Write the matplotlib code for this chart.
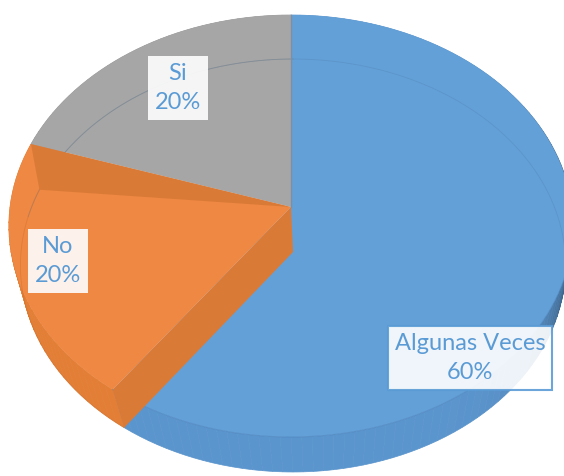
import numpy as np
import matplotlib.pyplot as plt
from matplotlib.patches import Polygon

# data
categories = ['Algunas Veces', 'No', 'Si']
values = [60, 20, 20]
top_colors = ['#63A0D7', '#EE8843', '#A6A6A6']
side_colors = ['#5B95CD', '#E27E35', '#999999']
cut_color = '#DA7A37'
label_pos = [(470, 358), (58, 261), (178, 88)]
label_edge = ['#5B9BD5', 'none', 'none']

# perspective ellipse for top and bottom rims (pixel space)
LEVELS = {
    'top': dict(cx=291, cy=207, rx=281, ry=209.3, k=11.1),
    'bot': dict(cx=293, cy=252, rx=272, ry=205.6, k=15.3),
}


def proj(theta, r=1.0, level='top'):
    p = LEVELS[level]
    t = np.radians(theta)
    X, Y = r * np.sin(t), r * np.cos(t)
    g = 1.0 / (1.0 + Y / p['k'])
    return np.column_stack([p['cx'] + p['rx'] * X * g, p['cy'] - p['ry'] * Y * g])


def arc(a, b, level, n=200):
    return proj(np.linspace(a, b, n), 1.0, level)


fig = plt.figure(figsize=(5.64, 4.76), dpi=100)
ax = fig.add_axes([0, 0, 1, 1])
ax.set_xlim(0, 564)
ax.set_ylim(476, 0)
ax.axis('off')

fracs = np.array(values) / sum(values) * 360
starts = np.concatenate([[0], np.cumsum(fracs)[:-1]])
ends = starts + fracs

# --- side faces (drawn first, top faces cover the back part) ---
for i in range(len(values)):
    angs = np.arange(starts[i], ends[i] + 0.01, 2.0)
    for a, b in zip(angs[:-1], angs[1:]):
        mid = np.radians((a + b) / 2)
        shade = 1.0 - 0.4 * max(0.0, np.sin(mid)) ** 8
        col = np.array(plt.matplotlib.colors.to_rgb(side_colors[i])) * shade
        poly = np.vstack([arc(a, b, 'top', 4), arc(b, a, 'bot', 4)])
        ax.add_patch(Polygon(poly, closed=True, fc=col, ec=col, lw=0.5, zorder=1))

# --- top faces ---
apex = proj(0, 0.0, 'top')[0]
apex_bot = proj(0, 0.0, 'bot')[0]
for i in range(len(values)):
    poly = np.vstack([[apex], arc(starts[i], ends[i], 'top')])
    ax.add_patch(Polygon(poly, closed=True, fc=top_colors[i], ec='none', zorder=2))

# rim line of top face along the front
ax.plot(*arc(95, 216, 'top').T, color='#4F86BE', lw=0.8, alpha=0.6, zorder=2.5)
# faint bottom rim seen through the top
ax.plot(*arc(-80, 95, 'bot').T, color='#4F7FAF', lw=0.6, alpha=0.35, zorder=2.5)
ax.plot(*arc(290, 360, 'bot').T, color='#808080', lw=0.6, alpha=0.5, zorder=2.5)
ax.plot(*arc(216, 290, 'bot').T, color='#C86A28', lw=0.6, alpha=0.4, zorder=2.5)

# --- cut faces of the "No" slice ---
a_no, b_no = starts[1], ends[1]
cut1 = np.vstack([apex, proj(a_no, 1, 'top')[0], proj(a_no, 1, 'bot')[0], apex_bot])
ax.add_patch(Polygon(cut1, closed=True, fc=cut_color, ec='none', zorder=3))
cut2 = np.vstack([apex, proj(b_no, 1, 'top')[0], proj(b_no, 1, 'bot')[0]])
ax.add_patch(Polygon(cut2, closed=True, fc=cut_color, ec='none', zorder=3))
ax.plot([apex[0], apex[0]], [apex[1], proj(0, 1, 'top')[0][1]], color='#7A8FA8', lw=1, zorder=3)

# --- labels ---
for i in range(len(values)):
    ax.text(label_pos[i][0], label_pos[i][1], f'{categories[i]}\n{values[i]}%',
            ha='center', va='center', fontsize=17, color='#5B9BD5', family='Lato',
            linespacing=1.45, zorder=5,
            bbox=dict(boxstyle='square,pad=0.3', fc='white', alpha=0.9,
                      ec=label_edge[i], lw=1.5))

fig.savefig('out.png', dpi=100)
